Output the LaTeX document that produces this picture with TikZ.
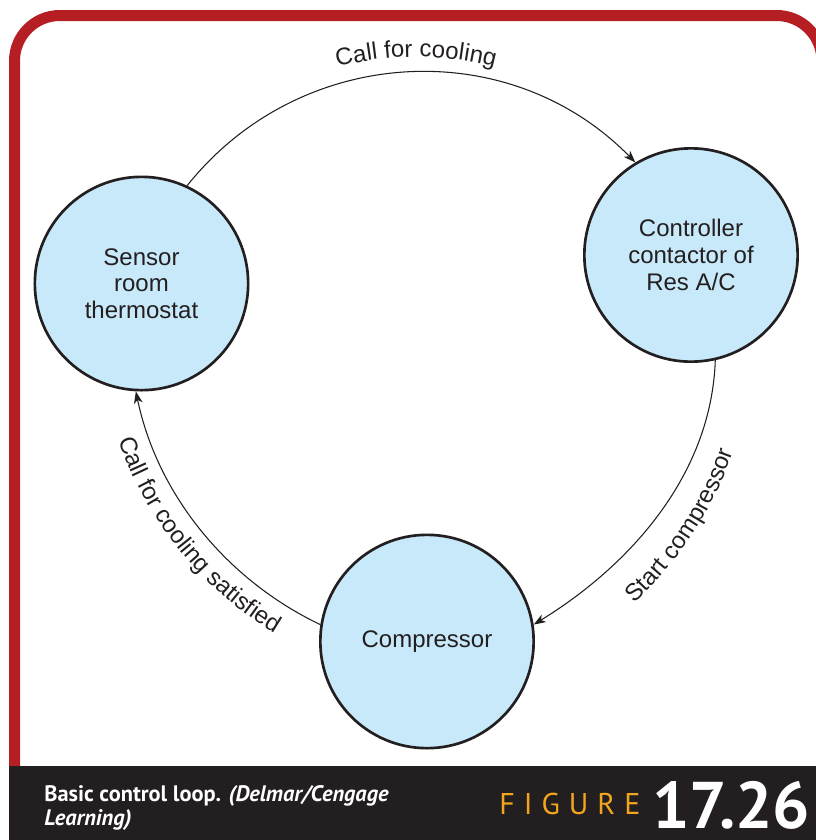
\documentclass[tikz,border=0pt]{standalone}
\usepackage{fontspec}
\setmainfont{Liberation Sans}
\newfontfamily\capfont{PT Sans}
\newfontfamily\figfont[LetterSpace=30]{PT Sans}
\usetikzlibrary{arrows.meta,decorations.text}

\definecolor{framered}{RGB}{181,31,36}
\definecolor{barink}{RGB}{35,31,32}
\definecolor{ink}{RGB}{35,31,32}
\definecolor{stagefill}{RGB}{200,233,249}
\definecolor{figorange}{RGB}{242,166,30}

\newcommand\arclabelfont{\fontsize{18}{20}\selectfont\color{ink}}

\begin{document}
\begin{tikzpicture}[x=0.75pt,y=0.75pt,
  stage/.style={circle, draw=ink, line width=2pt, fill=stagefill,
    minimum size=160pt, inner sep=0pt, align=center, text=ink,
    font=\fontsize{18}{20}\selectfont},
  flow/.style={draw=ink, line width=0.8pt,
    -{Stealth[length=9pt,width=6.5pt,inset=2.5pt]}},
  arclabel/.style={decorate, decoration={text along path, text align=center,
    text={|\arclabelfont|#1}}},
  captext/.style={text=white, inner sep=0pt, anchor=base west}]

\useasboundingbox (0,0) rectangle (816,-840);

% red frame with rounded top corners, running off the right edge
\begin{scope}
  \clip (0,0) rectangle (816,-840);
  \draw[framered, line width=8.25pt, rounded corners=34pt]
    (14.5,-800) -- (14.5,-15.5) -- (822,-15.5) -- (822,-800);
  % caption bar
  \fill[barink] (9,-766) rectangle (816,-845);
\end{scope}

% the three stages of the loop
\node[stage] (sensor) at (141.5,-283.5) {Sensor\\room\\thermostat};
\node[stage] (ctrl)   at (691,-255)     {Controller\\contactor of\\Res A/C};
\node[stage] (comp)   at (427,-641.5)   {Compressor};

% connectors
\draw[flow] (sensor.65) to[out=51.4, in=134.4, looseness=1.03] (ctrl.121);
\draw[flow] (ctrl.283) to[out=268, in=31.6, looseness=0.91] (comp.9);
\draw[flow] (comp.171) to[out=154.5, in=281.8, looseness=0.90] (sensor.267);

% curved labels, each set on its own baseline arc
\path[arclabel={Call for cooling}]
  (236.5,-113.6) arc[start angle=125, end angle=55, radius=313];
\path[arclabel={Start compressor}]
  (565.9,-653.9) arc[start angle=300, end angle=353.6, radius=378];
\path[arclabel={Call for cooling satisfied}]
  (104.1,-384.5) arc[start angle=190, end angle=248, radius=364];

% caption
\node[captext, font=\capfont\bfseries\fontsize{16.8}{18}\selectfont] (cap1) at (44,-801.7)
  {Basic control loop. \textit{(Delmar/Cengage}};
\node[captext, font=\capfont\bfseries\itshape\fontsize{16.8}{18}\selectfont] (cap2) at (44,-825)
  {Learning)};
\node[captext, text=figorange, font=\figfont\fontsize{22.5}{24}\selectfont] (figword) at (499,-814)
  {FIGURE};
\node[captext, font=\capfont\bfseries\fontsize{49.5}{50}\selectfont] (fignum) at (652,-828)
  {17.26};
\end{tikzpicture}
\end{document}
